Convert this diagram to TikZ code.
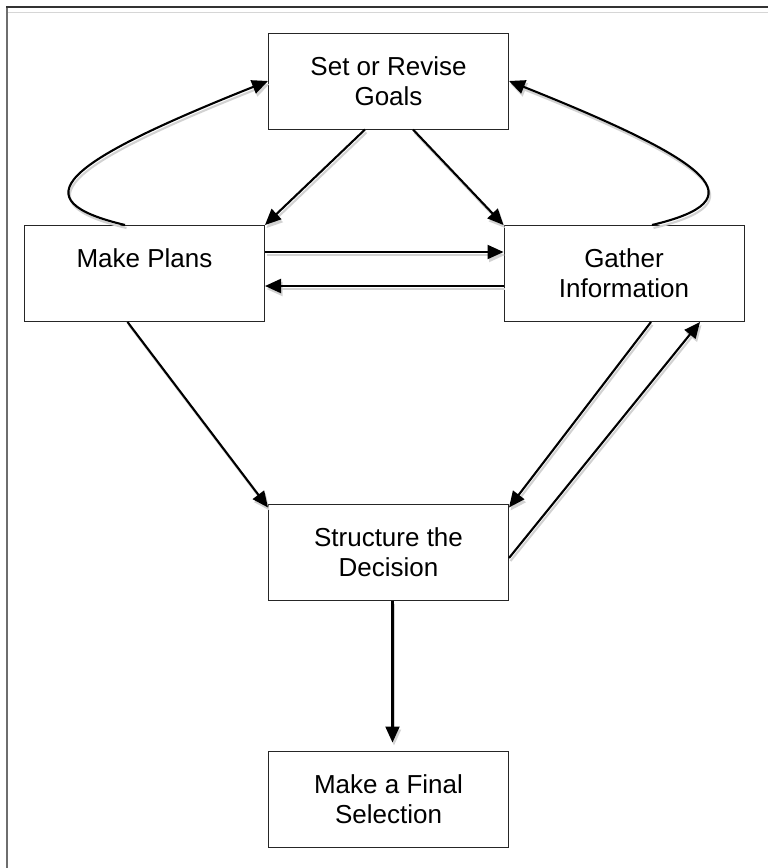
\documentclass[tikz,border=0pt]{standalone}
\usepackage{fontspec}
\setmainfont{Liberation Sans}
\usetikzlibrary{arrows.meta,calc}

\definecolor{framedark}{HTML}{333333}
\definecolor{frameside}{HTML}{6E6E6E}
\definecolor{framelight}{HTML}{D6D6D6}
\definecolor{shadowgray}{HTML}{D2D2D2}

\tikzset{
  stagebox/.style={draw=black!85, line width=1pt, fill=white,
    minimum width=240pt, minimum height=96pt, inner sep=0pt,
    align=center, font=\fontsize{26}{30}\selectfont},
  flow/.style={draw=black, line width=2.1pt,
    -{Triangle[length=16pt,width=14pt]},
    preaction={draw=shadowgray, line width=2.1pt,
      -{Triangle[length=16pt,width=14pt]},
      transform canvas={shift={(1.5pt,-3pt)}}}},
}

\begin{document}
\begin{tikzpicture}[x=1pt,y=-1pt]
  \useasboundingbox (0,0) rectangle (768,868);

  % page frame
  \draw[framelight, line width=1pt] (8,12) -- (768,12);
  \draw[frameside, line width=2pt] (7,868) -- (7,6);
  \draw[framedark, line width=1.5pt] (6,6.8) -- (768,6.8);

  % stages
  \node[stagebox] (set) at (388.5,81)  {Set or Revise\\Goals};
  \node[stagebox] (mp)  at (144.5,273.5) {Make Plans\\\phantom{Plans}};
  \node[stagebox] (gi)  at (624,273.5) {Gather\\Information};
  \node[stagebox] (sd)  at (388.5,552) {Structure the\\Decision};
  \node[stagebox] (fs)  at (388.5,799) {Make a Final\\Selection};

  % goals feed both planning and information gathering
  \draw[flow] ($(set.south)+(-23.5,0)$) -- (mp.north east);
  \draw[flow] ($(set.south)+(24.5,0)$) -- (gi.north west);

  % feedback loops back to the goals
  \draw[flow] ($(mp.north)+(-19.5,0)$) .. controls +(-105,-25) and +(-208,83) .. (set.west);
  \draw[flow] ($(gi.north)+(28,0)$) .. controls +(105,-25) and +(208,83) .. (set.east);

  % exchange between plans and information
  \draw[flow] ($(mp.east)+(0,-21.5)$) -- ($(gi.west)+(0,-21.5)$);
  \draw[flow] ($(gi.west)+(0,12.5)$) -- ($(mp.east)+(0,12.5)$);

  % into the decision structure
  \draw[flow] ($(mp.south)+(-17,0)$) -- ($(sd.north west)+(0,4)$);
  \draw[flow] ($(gi.south)+(27,0)$) -- ($(sd.north east)+(0,4)$);
  \draw[flow] ($(sd.east)+(0,6)$) -- ($(gi.south)+(76,0)$);

  % final selection
  \draw[flow] ($(sd.south)+(4,0)$) -- ($(fs.north)+(4,-8)$);
\end{tikzpicture}
\end{document}
